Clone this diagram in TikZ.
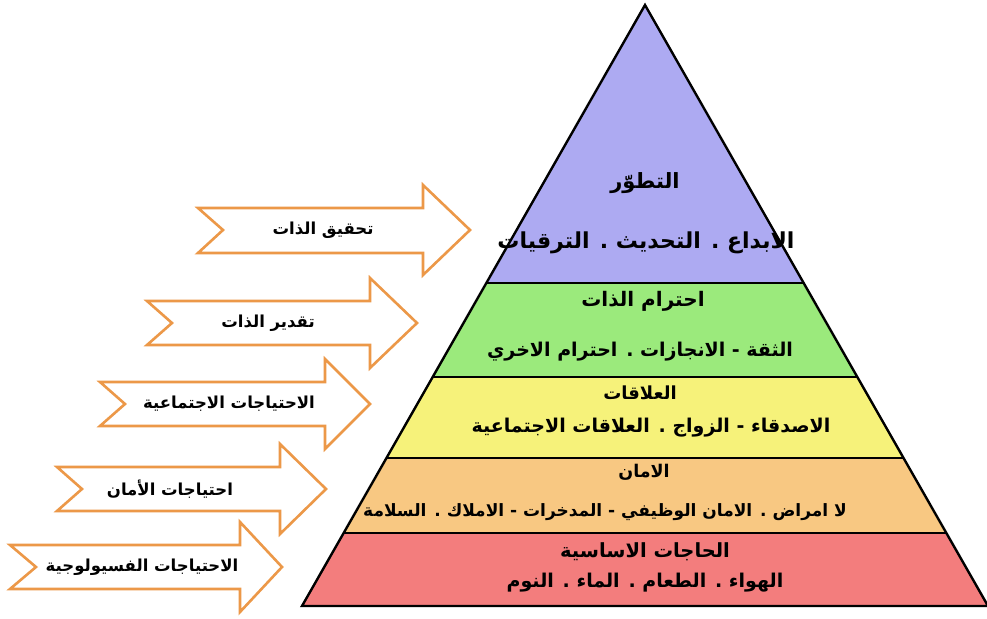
\documentclass[tikz,border=0pt]{standalone}
\usepackage{fontspec}
\usepackage{color}
\newfontfamily\arabicfont[Script=Arabic]{DejaVu Sans}
\TeXXeTstate=1

\begin{document}
\begin{tikzpicture}[x=1pt,y=-1pt,
	level/.style={font=\arabicfont\bfseries\fontsize{#1}{#1}\selectfont, inner sep=0pt},
	pointer/.style={draw=arroworange, fill=white, line width=2.6pt, line join=miter},
	pointertext/.style={font=\arabicfont\bfseries\fontsize{16.5}{18}\selectfont, inner sep=0pt}]
	\definecolor{toppurple}{RGB}{173, 170, 242}
	\definecolor{esteemgreen}{RGB}{155, 234, 124}
	\definecolor{loveyellow}{RGB}{246, 242, 122}
	\definecolor{safeorange}{RGB}{248, 200, 130}
	\definecolor{basered}{RGB}{243, 125, 125}
	\definecolor{arroworange}{RGB}{236, 152, 72}

	\useasboundingbox (0,0) rectangle (987,618);
	\fill[white] (0,0) rectangle (987,618);

	% pyramid
	\coordinate (apex) at (645,5);
	\coordinate (baseleft) at (302,606);
	\coordinate (baseright) at (988,606);

	\fill[basered] (343.7,533) -- (946.3,533) -- (baseright) -- (baseleft) -- cycle;
	\fill[safeorange] (386.5,458) -- (903.5,458) -- (946.3,533) -- (343.7,533) -- cycle;
	\fill[loveyellow] (432.7,377) -- (857.3,377) -- (903.5,458) -- (386.5,458) -- cycle;
	\fill[esteemgreen] (486.3,283) -- (803.7,283) -- (857.3,377) -- (432.7,377) -- cycle;
	\fill[toppurple] (apex) -- (803.7,283) -- (486.3,283) -- cycle;

	\draw[line width=2.4pt, line join=miter] (apex) -- (baseright) -- (baseleft) -- cycle;
	\draw[line width=2.4pt] (486.3,283) -- (803.7,283);
	\draw[line width=2.4pt] (432.7,377) -- (857.3,377);
	\draw[line width=2.4pt] (386.5,458) -- (903.5,458);
	\draw[line width=2.4pt] (343.7,533) -- (946.3,533);

	\node[level=21] (growth) at (645,183) {\beginR التطوّر\endR};
	\node[level=22] (growthitems) at (646,243) {\beginR الابداع . التحديث . الترقيات\endR};
	\node[level=20] (esteem) at (643,301) {\beginR احترام الذات\endR};
	\node[level=19] (esteemitems) at (640,352) {\beginR الثقة - الانجازات . احترام الاخري\endR};
	\node[level=18] (social) at (640,393) {\beginR العلاقات\endR};
	\node[level=19] (socialitems) at (651,428) {\beginR الاصدقاء - الزواج . العلاقات الاجتماعية\endR};
	\node[level=17.5] (safety) at (644,472) {\beginR الامان\endR};
	\node[level=17] (safetyitems) at (605,512) {\beginR لا امراض . الامان الوظيفي - المدخرات - الاملاك . السلامة\endR};
	\node[level=19.5] (basic) at (645,552) {\beginR الحاجات الاساسية\endR};
	\node[level=19] (basicitems) at (645,583) {\beginR الهواء . الطعام . الماء . النوم\endR};

	% arrows
	\draw[pointer] (198,208) -- (423,208) -- (423,185) -- (470,230) -- (423,275) -- (423,253) -- (198,253) -- (223,230) -- cycle;
	\draw[pointer] (147,301) -- (370,301) -- (370,278) -- (417,323) -- (370,368) -- (370,345) -- (147,345) -- (172,323) -- cycle;
	\draw[pointer] (100,382) -- (325,382) -- (325,359) -- (370,404) -- (325,449) -- (325,426) -- (100,426) -- (125,404) -- cycle;
	\draw[pointer] (57,467) -- (280,467) -- (280,444) -- (326,489) -- (280,534) -- (280,511) -- (57,511) -- (82,489) -- cycle;
	\draw[pointer] (10,545) -- (240,545) -- (240,522) -- (282,567) -- (240,612) -- (240,589) -- (10,589) -- (36,567) -- cycle;

	\node[pointertext] (selfactual) at (323,230) {\beginR تحقيق الذات\endR};
	\node[pointertext] (selfesteem) at (268,323) {\beginR تقدير الذات\endR};
	\node[pointertext] (socialneeds) at (229,404) {\beginR الاحتياجات الاجتماعية\endR};
	\node[pointertext] (safetyneeds) at (170,489) {\beginR احتياجات الأمان\endR};
	\node[pointertext] (physioneeds) at (142,567) {\beginR الاحتياجات الفسيولوجية\endR};
\end{tikzpicture}
\end{document}
